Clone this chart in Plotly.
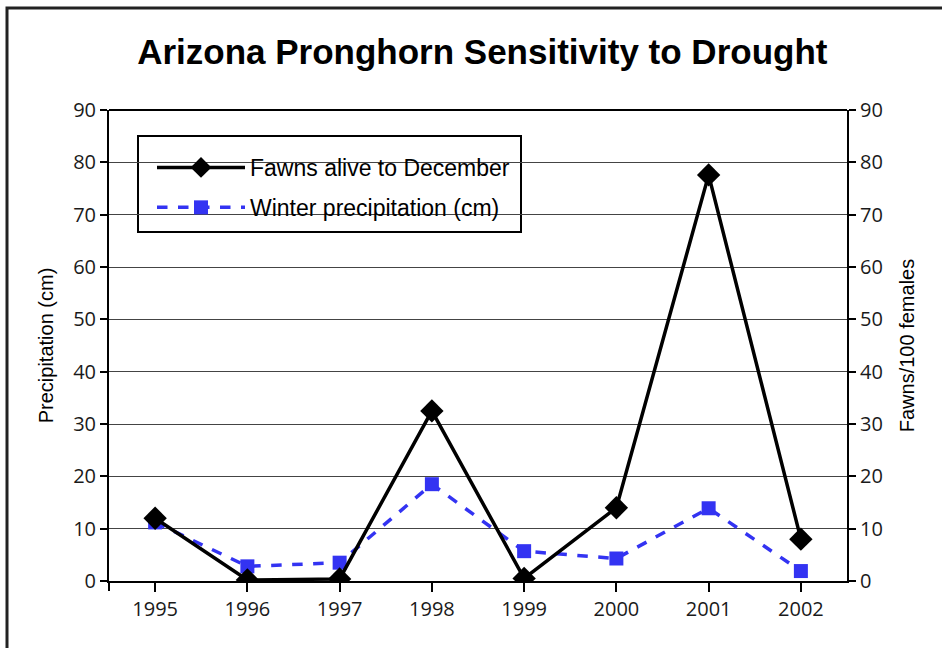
import plotly.graph_objects as go

years = ["1995", "1996", "1997", "1998", "1999", "2000", "2001", "2002"]
fawns = [12.0, 0.2, 0.4, 32.5, 0.5, 14.0, 77.6, 8.0]
precip = [11.2, 2.8, 3.5, 18.5, 5.7, 4.3, 13.9, 1.9]
yticks = [0, 10, 20, 30, 40, 50, 60, 70, 80, 90]

W, H = 942, 648
L, R, T, B = 109, 847, 110, 581

def px(x):
    return (x - L) / (R - L)

def py(y):
    return (B - y) / (B - T)

fig = go.Figure()
fig.add_trace(go.Scatter(
    x=years, y=fawns, name="Fawns alive to December", yaxis="y2",
    mode="lines+markers", legendgroup="a",
    line=dict(color="black", width=3.5),
    marker=dict(symbol="diamond", size=18, color="black"),
))
fig.add_trace(go.Scatter(
    x=years, y=precip, name="Winter precipitation (cm)", yaxis="y",
    mode="lines+markers", legendgroup="b",
    line=dict(color="#3333f2", width=3.5, dash="dash"),
    marker=dict(symbol="square", size=14, color="#3333f2"),
))

tickfont = dict(family="Open Sans, Noto Sans, sans-serif", size=20, color="#1a1a1a")
titlefont = dict(family="Liberation Sans, Arial, sans-serif", size=20, color="black")

fig.update_layout(
    width=W, height=H,
    margin=dict(l=L, r=W - R, t=T, b=H - B),
    paper_bgcolor="white", plot_bgcolor="white",
    title=dict(text="<b>Arizona Pronghorn Sensitivity to Drought</b>",
               x=0.512, xanchor="center", y=1 - 52 / H, yanchor="middle",
               font=dict(family="Liberation Sans, Arial, sans-serif", size=35, color="black")),
    xaxis=dict(type="category", range=[-0.5, 7.5], showgrid=False,
               showline=True, linecolor="black", linewidth=2,
               ticks="outside", ticklen=9, tickwidth=1.5, tickcolor="black",
               tickfont=tickfont, mirror=False, zeroline=False),
    yaxis=dict(range=[0, 90], tickvals=yticks, showgrid=True, gridcolor="#444", gridwidth=1,
               showline=True, linecolor="black", linewidth=2,
               ticks="outside", ticklen=7, tickwidth=1.5, tickcolor="black",
               tickfont=tickfont, zeroline=False,
               title=dict(text="Precipitation (cm)", font=titlefont, standoff=14)),
    yaxis2=dict(range=[0, 90], tickvals=yticks, overlaying="y", side="right",
                showgrid=False, showline=True, linecolor="black", linewidth=2,
                ticks="outside", ticklen=7, tickwidth=1.5, tickcolor="black",
                tickfont=tickfont, zeroline=False,
                title=dict(text="Fawns/100 females", font=titlefont, standoff=18)),
    legend=dict(x=px(152), y=py(146), xanchor="left", yanchor="top",
                bgcolor="rgba(0,0,0,0)", borderwidth=0,
                font=dict(family="Liberation Sans, Arial, sans-serif", size=23, color="black"),
                tracegroupgap=7, itemwidth=88),
    showlegend=True,
)

shapes = []
shapes.append(dict(type="line", xref="paper", yref="paper", x0=0, x1=1, y0=1, y1=1,
                   line=dict(color="black", width=2)))
shapes.append(dict(type="line", xref="paper", yref="paper", x0=0, x1=0, y0=0, y1=py(591),
                   line=dict(color="black", width=2)))
shapes.append(dict(type="rect", xref="paper", yref="paper",
                   x0=px(138), x1=px(521), y0=py(232), y1=py(136),
                   line=dict(color="black", width=2), fillcolor="white", layer="below"))
shapes.append(dict(type="rect", xref="paper", yref="paper",
                   x0=px(7), x1=px(960), y0=py(665), y1=py(8),
                   line=dict(color="#222", width=3)))
fig.update_layout(shapes=shapes)

fig.write_html("out.html", config={"displayModeBar": False},
               post_script="document.body.style.margin='0';document.body.style.overflow='hidden';")
